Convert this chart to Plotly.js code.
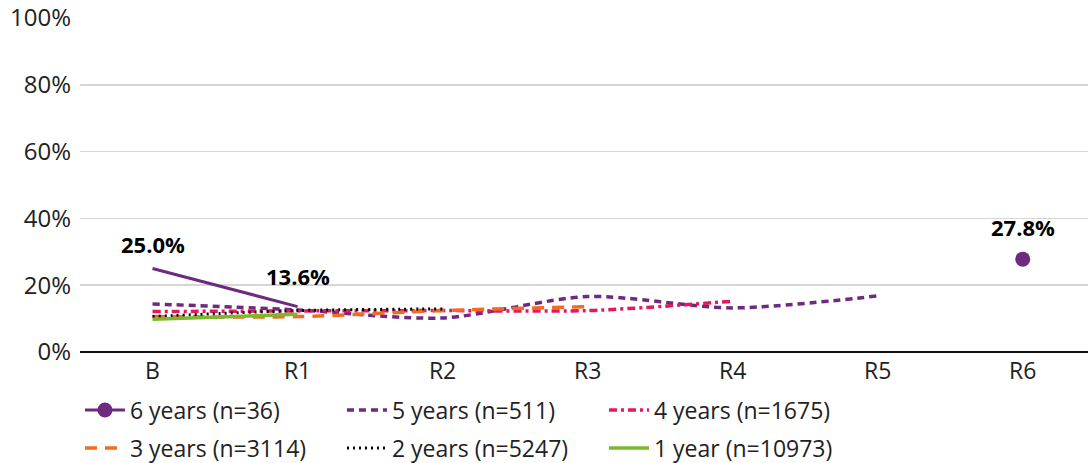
<!DOCTYPE html>
<html>
<head>
<meta charset="utf-8">
<script src="https://cdn.plot.ly/plotly-3.0.1.min.js"></script>
<style>
  html, body { margin: 0; padding: 0; background: #fff; }
  #chart { width: 1088px; height: 463px; }
</style>
</head>
<body>
<div id="chart"></div>
<script>
// Survey rounds on the category axis
const rounds = ['B', 'R1', 'R2', 'R3', 'R4', 'R5', 'R6'];

// Share per cohort (percent); null where the cohort has no observation
const sixYears   = [25.0, 13.6, null, null, null, null, 27.8];
const fiveYears  = [14.4, 12.6, 10.2, 16.6, 13.2, 16.8, null];
const fourYears  = [12.1, 12.3, 12.4, 12.4, 15.2, null, null];
const threeYears = [10.6, 10.6, 12.4, 13.6, null, null, null];
const twoYears   = [10.6, 12.4, 12.9, null, null, null, null];
const oneYear    = [9.8, 11.3, null, null, null, null, null];

const yTickVals = [0, 20, 40, 60, 80, 100];
const yTickText = ['0%', '20%', '40%', '60%', '80%', '100%'];

const purple = '#6d2a7e';
const pink = '#e3195d';
const orange = '#f26b21';
const green = '#7ab82e';

const fontFamily = 'Open Sans, sans-serif';

// The 6-year cohort: a line over B–R1 and a lone marker at R6
const sixLineX = rounds.slice(0, 2);
const sixLineY = sixYears.slice(0, 2);
const sixPointX = [rounds[6]];
const sixPointY = [sixYears[6]];

const traces = [
  {
    x: sixLineX, y: sixLineY, type: 'scatter', mode: 'lines',
    line: { color: purple, width: 3 }, legendgroup: 'six', showlegend: false,
    hoverinfo: 'skip'
  },
  {
    x: sixPointX, y: sixPointY, type: 'scatter', mode: 'lines+markers',
    name: '6 years (n=36)', legendgroup: 'six', legend: 'legend',
    line: { color: purple, width: 3 }, marker: { color: purple, size: 15 }
  },
  {
    x: rounds, y: fiveYears, type: 'scatter', mode: 'lines', name: '5 years (n=511)',
    legend: 'legend',
    line: { color: purple, width: 3.5, dash: '7px,5px', shape: 'spline', smoothing: 0.8 }
  },
  {
    x: rounds, y: fourYears, type: 'scatter', mode: 'lines', name: '4 years (n=1675)',
    legend: 'legend',
    line: { color: pink, width: 3.5, dash: '8px,4px,3px,4px', shape: 'spline', smoothing: 0.8 }
  },
  {
    x: rounds, y: threeYears, type: 'scatter', mode: 'lines', name: '3 years (n=3114)',
    legend: 'legend2',
    line: { color: orange, width: 3.5, dash: '12px,8px', shape: 'spline', smoothing: 0.8 }
  },
  {
    x: rounds, y: twoYears, type: 'scatter', mode: 'lines', name: '2 years (n=5247)',
    legend: 'legend2',
    line: { color: '#000000', width: 3, dash: '2px,4px', shape: 'spline', smoothing: 0.8 }
  },
  {
    x: rounds, y: oneYear, type: 'scatter', mode: 'lines', name: '1 year (n=10973)',
    legend: 'legend2',
    line: { color: green, width: 3.5 }
  }
];

const labelFont = { family: fontFamily, size: 22, color: '#000', weight: 700 };
function valueLabel(i, shift) {
  return {
    x: rounds[i], y: sixYears[i], xref: 'x', yref: 'y',
    text: '<b>' + sixYears[i].toFixed(1) + '%</b>',
    showarrow: false, yanchor: 'bottom', yshift: shift, font: labelFont
  };
}

// One horizontal legend row, placed in container coordinates
function legendRow(y) {
  return {
    orientation: 'h', xref: 'container', x: 0.0735, xanchor: 'left',
    yref: 'container', y: y, yanchor: 'middle',
    entrywidth: 207, entrywidthmode: 'pixels',
    font: { family: fontFamily, size: 23, color: '#222' }, traceorder: 'normal',
    itemwidth: 40, bgcolor: 'rgba(0,0,0,0)'
  };
}

const layout = {
  width: 1088, height: 463,
  margin: { l: 80, r: 0, t: 18, b: 111 },
  paper_bgcolor: '#ffffff', plot_bgcolor: '#ffffff',
  font: { family: fontFamily, size: 23, color: '#222' },
  showlegend: true,
  xaxis: {
    type: 'category', categoryorder: 'array', categoryarray: rounds,
    range: [-0.5, 6.45], showgrid: false, zeroline: false,
    showline: false, ticks: '', ticklabelstandoff: 3,
    tickfont: { family: fontFamily, size: 23, color: '#222' },
    fixedrange: true
  },
  yaxis: {
    range: [0, 100], tickvals: yTickVals, ticktext: yTickText,
    showgrid: true, gridcolor: '#d6d6d6', gridwidth: 1.5,
    zeroline: true, zerolinecolor: '#111', zerolinewidth: 2,
    showline: false, ticks: '', ticklabelstandoff: 8,
    tickfont: { family: fontFamily, size: 24, color: '#222' }, fixedrange: true
  },
  legend: legendRow(0.1145),
  legend2: legendRow(0.0324),
  annotations: [
    valueLabel(0, 8),
    valueLabel(1, 14),
    valueLabel(6, 15)
  ]
};

Plotly.newPlot('chart', traces, layout, { displayModeBar: false, staticPlot: true });
</script>
</body>
</html>
